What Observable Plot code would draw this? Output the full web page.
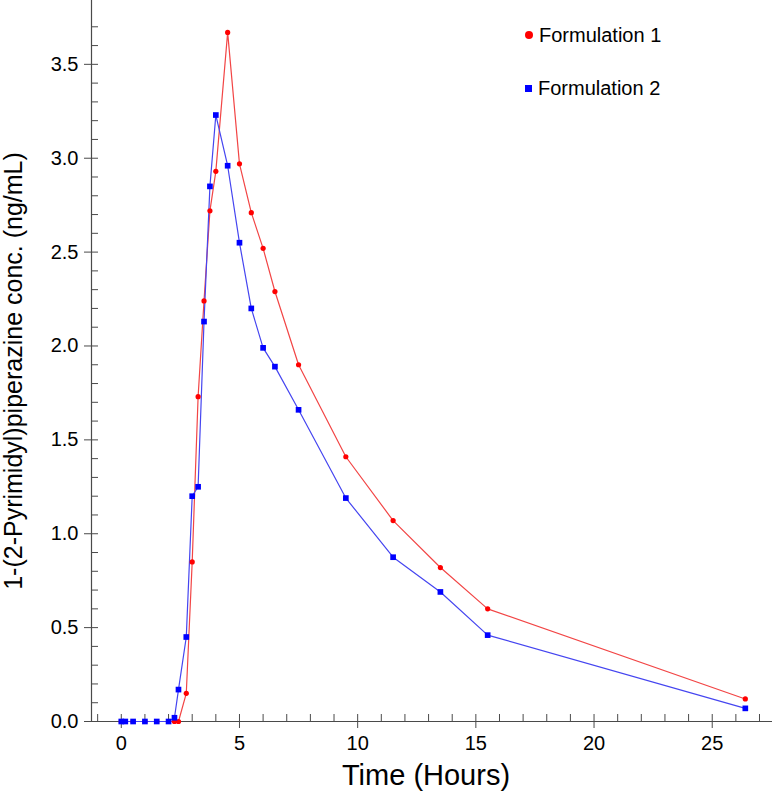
<!DOCTYPE html>
<html>
<head>
<meta charset="utf-8">
<script src="https://cdn.jsdelivr.net/npm/d3@7"></script>
<script src="https://cdn.jsdelivr.net/npm/@observablehq/plot@0.6"></script>
<style>
  html, body { margin: 0; padding: 0; background: #fff; }
  #wrap { position: relative; width: 774px; height: 801px; font-family: "Liberation Sans", Arial, sans-serif; }
  .leg { position: absolute; left: 0; top: 0; font-size: 20px; color: #000; white-space: nowrap; }
  .leg .item { position: absolute; display: flex; align-items: center; height: 24px; }
  .leg .sym { display: inline-block; margin-right: 6px; }
</style>
</head>
<body>
<div id="wrap"></div>
<script>
// ---- data ----
const times = [0, 0.17, 0.5, 1, 1.5, 2, 2.25, 2.42, 2.75, 3, 3.25, 3.5, 3.75, 4, 4.5, 5, 5.5, 6, 6.5, 7.5, 9.5, 11.5, 13.5, 15.5, 26.4];
const formulation1 = [0, 0, 0, 0, 0, 0, 0, 0, 0.15, 0.85, 1.73, 2.24, 2.72, 2.93, 3.67, 2.97, 2.71, 2.52, 2.29, 1.90, 1.41, 1.07, 0.82, 0.60, 0.12];
const formulation2 = [0, 0, 0, 0, 0, 0, 0.02, 0.17, 0.45, 1.20, 1.25, 2.13, 2.85, 3.23, 2.96, 2.55, 2.20, 1.99, 1.89, 1.66, 1.19, 0.875, 0.69, 0.46, 0.07];
const seriesNames = ["Formulation 1", "Formulation 2"];
const xMajorTicks = [0, 5, 10, 15, 20, 25];
const xMinorTicks = d3.range(-1, 28, 1);
const yMajorTicks = [0, 0.5, 1.0, 1.5, 2.0, 2.5, 3.0, 3.5];
const yMinorTicks = d3.range(0, 38).map(i => i / 10);
const xDomain = [-1.26, 27.55];
const yDomain = [0, 3.84];
const xTitle = "Time (Hours)";
const yTitle = "1-(2-Pyrimidyl)piperazine conc. (ng/mL)";

const rows1 = times.map((t, i) => ({t, v: formulation1[i], s: seriesNames[0]}));
const rows2 = times.map((t, i) => ({t, v: formulation2[i], s: seriesNames[1]}));

const axisColor = "#4a4a4a";
const chart = Plot.plot({
  width: 774,
  height: 801,
  marginLeft: 91,
  marginRight: 2,
  marginTop: 0,
  marginBottom: 80,
  style: {fontFamily: "'Liberation Sans', Arial, sans-serif", fontSize: "20px", color: "#000", background: "#fff"},
  x: {domain: xDomain},
  y: {domain: yDomain},
  marks: [
    // axis lines
    Plot.ruleY([yDomain[0]], {stroke: axisColor, strokeWidth: 1.2}),
    Plot.ruleX([xDomain[0]], {stroke: axisColor, strokeWidth: 1.2}),
    // x ticks
    Plot.axisX(xMinorTicks, {tickSize: -7, tickFormat: () => "", label: null, stroke: axisColor}),
    Plot.axisX(xMajorTicks, {tickSize: 7, tickPadding: 7, tickFormat: d => String(d), label: null, stroke: axisColor, fontSize: 20}),
    // y ticks
    Plot.axisY(yMinorTicks, {tickSize: -7, tickFormat: () => "", label: null, stroke: axisColor}),
    Plot.axisY(yMajorTicks, {tickSize: 7, tickPadding: 6, tickFormat: d3.format(".1f"), label: null, stroke: axisColor, fontSize: 20}),
    // titles
    Plot.text([xTitle], {frameAnchor: "bottom", textAnchor: "middle", dx: -6, dy: 63, fontSize: 29, fill: "#000"}),
    Plot.text([yTitle], {frameAnchor: "left", textAnchor: "middle", rotate: -90, dx: -78, dy: 10, fontSize: 25, fill: "#000"}),
    // lines
    Plot.line(rows1, {x: "t", y: "v", stroke: "#f24545", strokeWidth: 1.2}),
    Plot.line(rows2, {x: "t", y: "v", stroke: "#4545f0", strokeWidth: 1.2}),
    // markers
    Plot.dot(rows1, {x: "t", y: "v", r: 2.6, fill: "#ff0000", stroke: "none"}),
    Plot.dot(rows2, {x: "t", y: "v", r: 3.2, symbol: "square", fill: "#0000ff", stroke: "none"})
  ]
});

const wrap = document.getElementById("wrap");
wrap.appendChild(chart);

// legend
const leg = document.createElement("div");
leg.className = "leg";
const legendItems = [
  {name: seriesNames[0], color: "#ff0000", shape: "circle", left: 525, top: 23},
  {name: seriesNames[1], color: "#0000ff", shape: "square", left: 525, top: 76}
];
for (const it of legendItems) {
  const d = document.createElement("div");
  d.className = "item";
  d.style.left = it.left + "px";
  d.style.top = it.top + "px";
  const s = document.createElement("span");
  s.className = "sym";
  s.style.background = it.color;
  if (it.shape === "circle") { s.style.width = "8px"; s.style.height = "8px"; s.style.borderRadius = "50%"; }
  else { s.style.width = "7px"; s.style.height = "7px"; }
  d.appendChild(s);
  const tx = document.createElement("span");
  tx.textContent = it.name;
  d.appendChild(tx);
  leg.appendChild(d);
}
wrap.appendChild(leg);
</script>
</body>
</html>
